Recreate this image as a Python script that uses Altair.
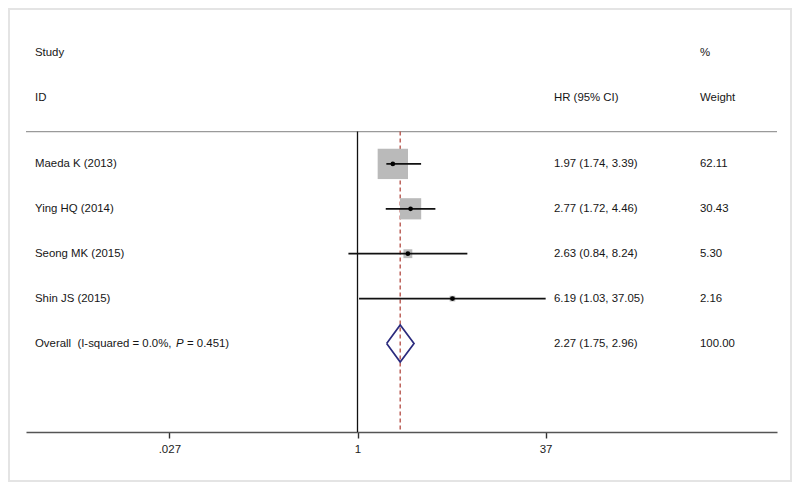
import altair as alt
import pandas as pd

# ---- data ----
studies = ["Maeda K (2013)", "Ying HQ (2014)", "Seong MK (2015)", "Shin JS (2015)"]
hr = [1.97, 2.77, 2.63, 6.19]
ci_low = [1.74, 1.72, 0.84, 1.03]
ci_high = [3.39, 4.46, 8.24, 37.05]
weights = [62.11, 30.43, 5.30, 2.16]
overall_hr, overall_low, overall_high = 2.27, 1.75, 2.96
overall_weight = 100.00
overall_label_a = "Overall\u00a0\u00a0(I-squared = 0.0%,"
overall_label_p = "P"
overall_label_b = "= 0.451)"
tick_values = [0.027, 1, 37]
tick_labels = [".027", "1", "37"]

# ---- layout (row units) ----
study_rows = [2.47, 3.47, 4.47, 5.47]
overall_row = 6.47
sep_row = 1.75
axis_row = 8.441
y_top = -0.735
diamond_half = 0.412

W, H = 751, 412
FONT = "Liberation Sans"
FS = 11.4
TXT = "#161616"

df = pd.DataFrame({
    "study": studies, "hr": hr, "lo": ci_low, "hi": ci_high, "w": weights,
    "row": study_rows,
})
df["hrtxt"] = [f"{a:.2f} ({b:.2f}, {c:.2f})" for a, b, c in zip(hr, ci_low, ci_high)]
df["wtxt"] = [f"{w:.2f}" for w in weights]

xscale = alt.Scale(type="log", domain=[0.001722, 3145], nice=False)
yscale = alt.Scale(domain=[y_top, axis_row], reverse=True, nice=False, zero=False)

X = lambda f: alt.X(f, type="quantitative", scale=xscale,
                    axis=alt.Axis(values=tick_values, grid=False, title=None,
                                  labelExpr="datum.value < 0.5 ? '%s' : (datum.value < 5 ? '%s' : '%s')" % tuple(tick_labels),
                                  domainColor="#555555", domainWidth=1.6,
                                  tickColor="#333333", tickWidth=1.4, tickSize=6,
                                  labelFont=FONT, labelFontSize=11.5, labelColor="#1c1c1c",
                                  labelPadding=5))
Y = lambda f: alt.Y(f, type="quantitative", scale=yscale, axis=None)

base = alt.Chart(df)

# outer frame
frame = alt.Chart(pd.DataFrame({"a": [0]})).mark_rect(
    fill="transparent", stroke="#e4e4e4", strokeWidth=2
).encode(x=alt.value(-17), x2=alt.value(W + 14), y=alt.value(-11), y2=alt.value(H + 49))

# headers
hdr = pd.DataFrame({
    "t": ["Study", "ID", "HR (95% CI)", "%", "Weight"],
    "px": [9, 9, 528, 674, 674],
    "row": [0, 1, 1, 0, 1],
})
headers = alt.Chart(hdr).mark_text(align="left", baseline="middle", font=FONT,
                                   fontSize=FS, color=TXT).encode(
    x=alt.X("px:Q", scale=None), y=Y("row"), text="t:N")

sep = alt.Chart(pd.DataFrame({"r": [sep_row]})).mark_rule(color="#9a9a9a", strokeWidth=1.2).encode(
    x=alt.value(0), x2=alt.value(W), y=Y("r"))

lines_df = pd.DataFrame({"x": [1.0], "r1": [sep_row], "r2": [axis_row]})
null_line = alt.Chart(lines_df).mark_rule(color="#111111", strokeWidth=1.3).encode(
    x=X("x"), y=Y("r1"), y2="r2")

ov_df = pd.DataFrame({"x": [overall_hr], "lo": [overall_low], "hi": [overall_high],
                      "r1": [sep_row], "r2": [axis_row], "row": [overall_row],
                      "hrtxt": [f"{overall_hr:.2f} ({overall_low:.2f}, {overall_high:.2f})"],
                      "wtxt": [f"{overall_weight:.2f}"]})
dashed = alt.Chart(ov_df).mark_rule(color="#b8574f", strokeWidth=1.4, strokeDash=[4, 3]).encode(
    x=X("x"), y=Y("r1"), y2="r2")

squares = base.mark_square(color="#bababa", opacity=1).encode(
    x=X("hr"), y=Y("row"),
    size=alt.Size("w:Q", scale=alt.Scale(type="linear", domain=[0, 100], range=[0, 1480]), legend=None))

ci = base.mark_rule(color="#111111", strokeWidth=1.8).encode(x=X("lo"), x2="hi", y=Y("row"))
dots = base.mark_circle(color="#000000", size=22, opacity=1).encode(x=X("hr"), y=Y("row"))

# diamond from overall estimate
dia = pd.DataFrame({
    "x": [overall_low, overall_hr, overall_high, overall_hr, overall_low],
    "r": [overall_row, overall_row - diamond_half, overall_row, overall_row + diamond_half, overall_row],
    "o": [0, 1, 2, 3, 4],
})
diamond = alt.Chart(dia).mark_line(color="#2b2b7e", strokeWidth=1.7).encode(
    x=X("x"), y=Y("r"), order="o:Q")

txt_kw = dict(align="left", baseline="middle", font=FONT, fontSize=FS, color=TXT)
lab = base.mark_text(**txt_kw).encode(x=alt.value(9), y=Y("row"), text="study:N")
hrt = base.mark_text(**txt_kw).encode(x=alt.value(528), y=Y("row"), text="hrtxt:N")
wt = base.mark_text(**txt_kw).encode(x=alt.value(674), y=Y("row"), text="wtxt:N")

ov_a = alt.Chart(ov_df).mark_text(**txt_kw).encode(x=alt.value(9), y=Y("row"), text=alt.value(overall_label_a))
ov_p = alt.Chart(ov_df).mark_text(fontStyle="italic", **txt_kw).encode(x=alt.value(150), y=Y("row"), text=alt.value(overall_label_p))
ov_b = alt.Chart(ov_df).mark_text(**txt_kw).encode(x=alt.value(161), y=Y("row"), text=alt.value(overall_label_b))
ov_hr = alt.Chart(ov_df).mark_text(**txt_kw).encode(x=alt.value(528), y=Y("row"), text="hrtxt:N")
ov_w = alt.Chart(ov_df).mark_text(**txt_kw).encode(x=alt.value(674), y=Y("row"), text="wtxt:N")

chart = alt.layer(
    frame, sep, null_line, dashed, squares, ci, dots, diamond,
    headers, lab, hrt, wt, ov_a, ov_p, ov_b, ov_hr, ov_w
).properties(
    width=W, height=H,
    background="white",
    autosize=alt.AutoSizeParams(type="none"),
    padding={"left": 18, "top": 12, "right": 15, "bottom": 50},
).configure_view(strokeOpacity=0, strokeWidth=0)

chart.save("out.html", embed_options={"renderer": "svg", "actions": False})
